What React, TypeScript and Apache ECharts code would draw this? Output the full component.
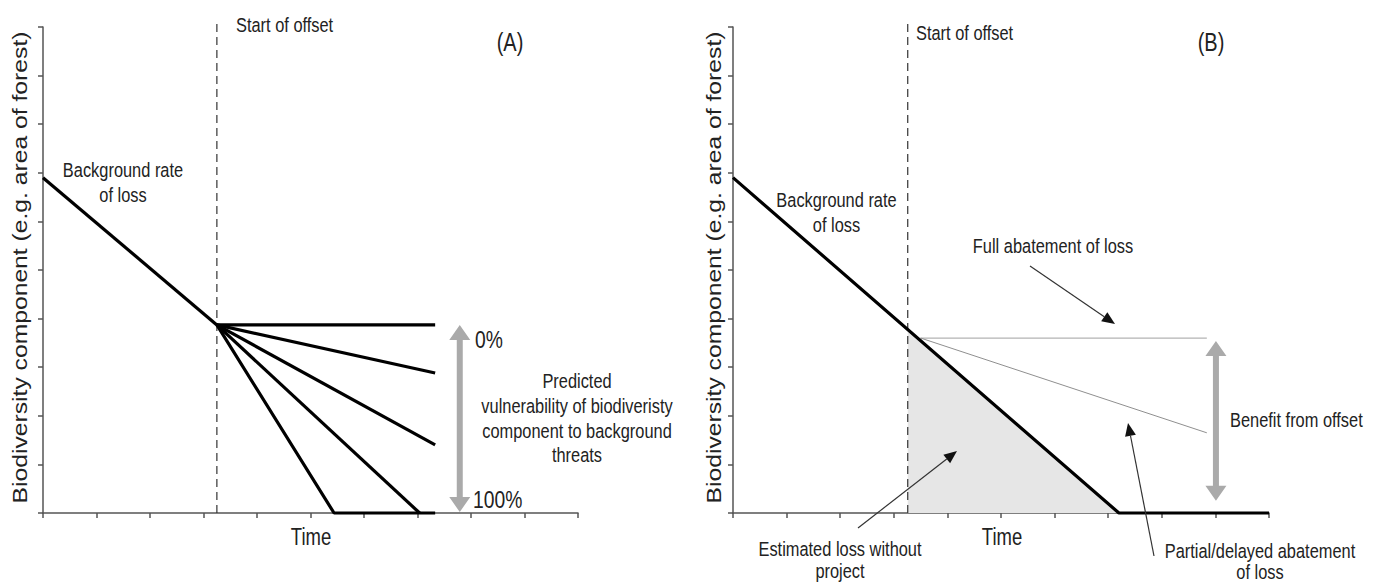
import React, { useEffect, useRef } from "react";
import * as echarts from "echarts";

// ---- Data (schematic values, axis units 0..10) ----
const xTicks = [0, 1, 2, 3, 4, 5, 6, 7, 8, 9, 10];
const offsetStartA = 3.25;
const offsetStartB = 3.26;

// Panel A
const backgroundA = [[0, 6.9], [3.25, 3.87]];
const vuln0 = [[3.25, 3.87], [7.33, 3.87]];
const vuln25 = [[3.25, 3.87], [7.33, 2.88]];
const vuln50 = [[3.25, 3.87], [7.33, 1.4]];
const vuln75 = [[3.25, 3.87], [7.04, 0]];
const vuln100 = [[3.25, 3.87], [5.44, 0], [7.33, 0]];
const vulnArrowA = { x: 7.79, top: 3.87, bottom: 0.02 };

// Panel B
const backgroundB = [[0, 6.9], [7.2, 0], [10, 0]];
const lossWithoutProject = [[3.26, 3.8], [7.2, 0]];
const fullAbatement = [[3.5, 3.6], [8.84, 3.6]];
const partialAbatement = [[3.5, 3.6], [8.84, 1.65]];
const benefitArrowB = { x: 9.01, top: 3.54, bottom: 0.25 };

const FONT = '"Liberation Sans", Arial, Helvetica, sans-serif';
const SY = 1.26; // vertical stretch of the original figure's lettering
const TXT = "#222";

function txt(text: string, x: number, y: number, size: number, align = "center", lineHeight?: number) {
  return {
    type: "text",
    x,
    y,
    scaleY: SY,
    z: 10,
    style: {
      text,
      fontSize: size,
      fontFamily: FONT,
      fill: TXT,
      align,
      verticalAlign: "middle",
      lineHeight: lineHeight || size * 1.2,
    },
  };
}

function vtxt(text: string, x: number, y: number, size: number) {
  return {
    type: "text",
    x,
    y,
    rotation: Math.PI / 2,
    scaleX: SY,
    z: 10,
    style: { text, fontSize: size, fontFamily: FONT, fill: TXT, align: "center", verticalAlign: "middle" },
  };
}

function pointerArrow(sx: number, sy: number, tx: number, ty: number) {
  const dx = tx - sx, dy = ty - sy;
  const len = Math.sqrt(dx * dx + dy * dy);
  const ux = dx / len, uy = dy / len;
  const hl = 13, hw = 5.5;
  const bx = tx - ux * hl, by = ty - uy * hl;
  return [
    { type: "line", z: 9, shape: { x1: sx, y1: sy, x2: bx, y2: by }, style: { stroke: "#333", lineWidth: 1.2 } },
    {
      type: "polygon",
      z: 9,
      shape: { points: [[tx, ty], [bx - uy * hw, by + ux * hw], [bx + uy * hw, by - ux * hw]] },
      style: { fill: "#111" },
    },
  ];
}

function doubleArrow(cx: number, ty: number, by: number) {
  const hl = 15, hh = 10.5, sh = 3;
  return {
    type: "polygon",
    z: 8,
    shape: {
      points: [
        [cx, ty], [cx + hh, ty + hl], [cx + sh, ty + hl], [cx + sh, by - hl], [cx + hh, by - hl],
        [cx, by], [cx - hh, by - hl], [cx - sh, by - hl], [cx - sh, ty + hl], [cx - hh, ty + hl],
      ],
    },
    style: { fill: "#aaaaaa" },
  };
}

const axisLine = { show: true, onZero: false, lineStyle: { color: "#555", width: 1.5 } };
const axisTick = { show: true, inside: false, length: 5, lineStyle: { color: "#555", width: 1.5 } };

function xAx(gridIndex: number) {
  return {
    type: "value", gridIndex, min: xTicks[0], max: xTicks[xTicks.length - 1], interval: 1,
    axisLine, axisTick, axisLabel: { show: false }, splitLine: { show: false },
  };
}
function yAx(gridIndex: number) {
  return {
    type: "value", gridIndex, min: 0, max: 10, interval: 1,
    axisLine, axisTick, axisLabel: { show: false }, splitLine: { show: false },
  };
}

function thick(data: number[][], idx: number) {
  return {
    type: "line", xAxisIndex: idx, yAxisIndex: idx, data, symbol: "none", clip: false, z: 5,
    lineStyle: { color: "#000", width: 3.2 },
  };
}

export default function App() {
  const ref = useRef<HTMLDivElement>(null);
  useEffect(() => {
    if (!ref.current) return;
    const chart = echarts.init(ref.current, null, { renderer: "svg" });
    chart.setOption({
      animation: false,
      backgroundColor: "#fff",
      grid: [
        { left: 43, top: 27, width: 535, height: 486 },
        { left: 733, top: 27, width: 536, height: 486 },
      ],
      xAxis: [xAx(0), xAx(1)],
      yAxis: [yAx(0), yAx(1)],
      series: [
        // Panel A
        {
          type: "line", xAxisIndex: 0, yAxisIndex: 0, symbol: "none", clip: false, z: 3,
          data: [[offsetStartA, 0], [offsetStartA, 10.15]],
          lineStyle: { color: "#333", width: 1.2, type: [8, 5] },
        },
        thick(backgroundA, 0),
        thick(vuln0, 0),
        thick(vuln25, 0),
        thick(vuln50, 0),
        thick(vuln75, 0),
        thick(vuln100, 0),
        // Panel B
        {
          type: "line", xAxisIndex: 1, yAxisIndex: 1, symbol: "none", clip: false, z: 1,
          data: lossWithoutProject,
          lineStyle: { width: 0, opacity: 0 },
          areaStyle: { color: "#e6e6e6", opacity: 1 },
        },
        {
          type: "line", xAxisIndex: 1, yAxisIndex: 1, symbol: "none", clip: false, z: 3,
          data: [[offsetStartB, 0], [offsetStartB, 10.15]],
          lineStyle: { color: "#333", width: 1.2, type: [8, 5] },
        },
        {
          type: "line", xAxisIndex: 1, yAxisIndex: 1, symbol: "none", clip: false, z: 4,
          data: fullAbatement, lineStyle: { color: "#b3b3b3", width: 1.3 },
        },
        {
          type: "line", xAxisIndex: 1, yAxisIndex: 1, symbol: "none", clip: false, z: 4,
          data: partialAbatement, lineStyle: { color: "#8f8f8f", width: 1 },
        },
        thick(backgroundB, 1),
      ],
    });

    const pA = (x: number, y: number) => chart.convertToPixel({ gridIndex: 0 }, [x, y]) as number[];
    const pB = (x: number, y: number) => chart.convertToPixel({ gridIndex: 1 }, [x, y]) as number[];
    const aTop = pA(vulnArrowA.x, vulnArrowA.top);
    const aBot = pA(vulnArrowA.x, vulnArrowA.bottom);
    const bTop = pB(benefitArrowB.x, benefitArrowB.top);
    const bBot = pB(benefitArrowB.x, benefitArrowB.bottom);

    const graphic: any[] = [
      // Panel A
      vtxt("Biodiversity component (e.g. area of forest)", 20.5, 267.5, 19.6),
      txt("Start of offset", 236, 25, 16.4, "left"),
      txt("(A)", 510, 42, 20),
      txt("Background rate\nof loss", 123, 182.5, 16.4, "center", 19.8),
      txt("0%", 475, 340, 19.3, "left"),
      txt("100%", 473, 500, 19.3, "left"),
      txt("Predicted\nvulnerability of biodiveristy\ncomponent to background\nthreats", 577, 418, 16.4, "center", 19.6),
      txt("Time", 311, 537, 18.5),
      doubleArrow(aTop[0], aTop[1], aBot[1]),
      // Panel B
      vtxt("Biodiversity component (e.g. area of forest)", 714, 267.5, 19.6),
      txt("Start of offset", 916, 33, 16.4, "left"),
      txt("(B)", 1211, 42, 20),
      txt("Background rate\nof loss", 836.5, 212.5, 16.4, "center", 19.8),
      txt("Full abatement of loss", 1053, 246, 16.4),
      txt("Benefit from offset", 1230, 420, 16.4, "left"),
      txt("Time", 1002, 537, 18.5),
      txt("Estimated loss without\nproject", 840, 559.5, 16.4, "center", 17.5),
      txt("Partial/delayed abatement\nof loss", 1260, 561, 16.4, "center", 16.5),
      doubleArrow(bTop[0], bTop[1], bBot[1]),
      ...pointerArrow(1030, 266, 1115, 324),
      ...pointerArrow(858, 528, 957, 451),
      ...pointerArrow(1154, 556, 1128, 423),
    ];
    chart.setOption({ graphic });
    return () => chart.dispose();
  }, []);
  return (
    <div
      ref={ref}
      style={{ position: "absolute", left: 0, top: 0, width: 1379, height: 585, background: "#fff" }}
    />
  );
}
